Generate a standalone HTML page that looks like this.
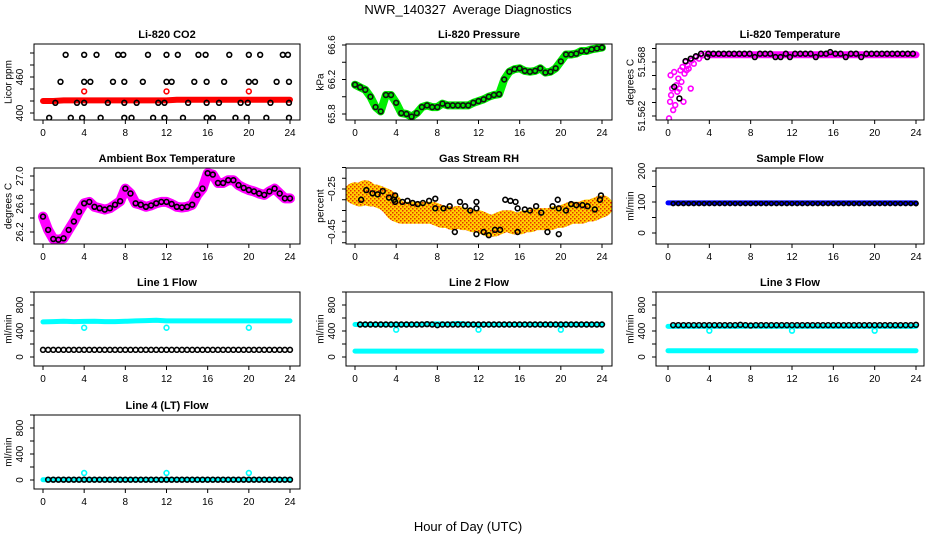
<!DOCTYPE html>
<html><head><meta charset="utf-8">
<style>
html,body{margin:0;padding:0;background:#fff;}
svg{display:block;font-family:"Liberation Sans",sans-serif;}
</style></head>
<body>
<svg id="chart" width="936" height="540" viewBox="0 0 936 540" xmlns="http://www.w3.org/2000/svg">
<defs>
<pattern id="speckle" width="4" height="4" patternUnits="userSpaceOnUse">
<rect width="4" height="4" fill="#ffd000"/>
<rect x="0" y="0" width="1.5" height="1.5" fill="#e83000"/>
<rect x="2" y="2" width="1.5" height="1.5" fill="#e83000"/>
</pattern>
</defs>
<text x="468" y="14" text-anchor="middle" font-size="13">NWR_140327&#160; Average Diagnostics</text>
<text x="468" y="531" text-anchor="middle" font-size="13">Hour of Day (UTC)</text>
</svg>
<script>
// ---------- data ----------
const xTicks = [0,4,8,12,16,20,24];
const halfHours = [0,0.5,1,1.5,2,2.5,3,3.5,4,4.5,5,5.5,6,6.5,7,7.5,8,8.5,9,9.5,10,10.5,11,11.5,12,12.5,13,13.5,14,14.5,15,15.5,16,16.5,17,17.5,18,18.5,19,19.5,20,20.5,21,21.5,22,22.5,23,23.5,24];
const hours = [0,1,2,3,4,5,6,7,8,9,10,11,12,13,14,15,16,17,18,19,20,21,22,23,24];

// CO2
const co2RedBand = [420,420,421,421,421,421,421,421,421,421,421,421,421,422,422,422,422,422,422,422,422,422,422,422,422];
const co2RedOutT = [4,12,20];
const co2RedOutV = [436,436,436];
const co2BlackT = [2.2,4,5.2,7.3,7.8,10.2,12,13.1,15.1,15.8,18.1,20,21.1,23.3,23.8, 1.7,4,4.6,6.8,7.9,9.7,12,12.5,14.7,15.9,17.6,20,20.6,22.7,23.9, 1.2,3.3,4,6.3,7.9,9.1,11.2,11.8,14.1,15.9,17.1,19.2,19.9,22.1,23.9, 0.6,2.7,3.8,5.6,7.9,8.6,10.7,11.8,13.6,15.9,16.5,18.7,19.8,21.7,23.9];
const co2BlackV = [497,497,497,497,497,497,497,497,497,497,497,497,497,497,497, 452,452,452,452,452,452,452,452,452,452,452,452,452,452,452, 417,417,417,417,417,417,417,417,417,417,417,417,417,417,417, 392,392,392,392,392,392,392,392,392,392,392,392,392,392,392];

// Pressure
const pressure = [66.14,66.11,66.08,66.0,65.88,65.83,66.02,66.02,65.93,65.81,65.80,65.77,65.81,65.88,65.90,65.88,65.88,65.92,65.90,65.90,65.90,65.90,65.90,65.93,65.95,65.97,66.0,66.02,66.03,66.2,66.29,66.32,66.33,66.30,66.29,66.30,66.33,66.28,66.29,66.33,66.41,66.49,66.49,66.50,66.53,66.53,66.55,66.56,66.57];

// Li-820 temperature
const tempMagT = [0.1,0.2,0.25,0.3,0.4,0.5,0.6,0.7,0.8,0.9,1.0,1.1,1.2,1.3,1.4,1.5,1.6,1.7,1.8,1.9,2.0,2.2,2.3,2.5,2.7,3.0,3.3,3.6,4.0];
const tempMagV = [51.56174,51.56358,51.56653,51.56432,51.56505,51.56266,51.56689,51.56321,51.56542,51.56469,51.56616,51.56505,51.56708,51.56579,51.56745,51.56358,51.56671,51.5680,51.56708,51.56763,51.56726,51.56505,51.56818,51.56781,51.56855,51.56837,51.56873,51.56892,51.56892];
const tempBand = [51.5688,51.5688,51.5688,51.5688,51.5688,51.5688,51.5688,51.5688,51.5688,51.5688,51.5688,51.5688,51.5688,51.5688,51.5688,51.5688,51.5688,51.5688,51.5688,51.5688,51.5688];
const tempBandT = [4,5,6,7,8,9,10,11,12,13,14,15,16,17,18,19,20,21,22,23,24];
const tempBlackT = [0.6,1.1,1.7,2.2,2.7,3.2,3.8,3.9,4.4,4.9,5.4,5.9,6.4,6.9,7.4,7.9,8.4,8.9,9.4,9.9,10.4,10.9,11.4,11.8,12.3,12.8,13.3,13.8,14.3,14.8,15.3,15.7,16.2,16.7,17.2,17.7,18.2,18.7,19.2,19.7,20.2,20.7,21.2,21.7,22.2,22.7,23.2,23.7];
const tempBlackV = [51.56524,51.56395,51.5681,51.56837,51.56864,51.56892,51.56855,51.56892,51.56892,51.56892,51.56892,51.56892,51.56892,51.56892,51.56892,51.56892,51.56855,51.56892,51.56892,51.56892,51.56855,51.56855,51.56892,51.56855,51.56892,51.56892,51.56892,51.56892,51.56855,51.56892,51.56892,51.5691,51.56892,51.56892,51.56855,51.56892,51.56892,51.56855,51.56892,51.56892,51.56892,51.56892,51.56892,51.56892,51.56892,51.56892,51.56892,51.56892];

// Ambient temperature
const ambient = [26.42,26.23,26.10,26.09,26.11,26.23,26.35,26.49,26.61,26.63,26.56,26.54,26.52,26.54,26.59,26.64,26.82,26.75,26.61,26.59,26.56,26.58,26.61,26.63,26.63,26.60,26.56,26.55,26.56,26.59,26.73,26.82,27.04,27.02,26.90,26.90,26.94,26.94,26.87,26.83,26.80,26.78,26.75,26.73,26.78,26.82,26.75,26.68,26.68];

// Gas stream RH
const rhBand = [-0.27,-0.28,-0.26,-0.28,-0.28,-0.29,-0.30,-0.32,-0.35,-0.36,-0.36,-0.36,-0.36,-0.36,-0.36,-0.36,-0.37,-0.38,-0.38,-0.39,-0.38,-0.39,-0.39,-0.40,-0.40,-0.41,-0.42,-0.42,-0.41,-0.40,-0.40,-0.41,-0.41,-0.40,-0.40,-0.39,-0.39,-0.39,-0.39,-0.38,-0.38,-0.37,-0.36,-0.36,-0.36,-0.35,-0.35,-0.34,-0.33];
const rhBlackT = [0.6,1.1,1.7,2.2,2.7,3.3,3.8,3.9,3.9,4.6,5.1,5.6,6.1,6.6,7.2,7.8,7.8,8.6,9.2,9.7,10.2,10.7,11.2,11.8,11.8,11.8,12.5,13.0,13.6,14.1,14.6,15.1,15.6,15.8,15.8,16.5,17.0,17.6,18.1,18.7,19.2,19.7,19.8,19.8,20.5,21.0,21.5,22.1,22.6,23.3,23.8,23.9];
const rhBlackV = [-0.30,-0.255,-0.27,-0.275,-0.26,-0.29,-0.30,-0.28,-0.31,-0.31,-0.305,-0.315,-0.32,-0.315,-0.305,-0.295,-0.34,-0.34,-0.33,-0.45,-0.31,-0.33,-0.35,-0.34,-0.31,-0.46,-0.45,-0.465,-0.44,-0.44,-0.30,-0.305,-0.31,-0.34,-0.45,-0.345,-0.35,-0.33,-0.36,-0.45,-0.33,-0.30,-0.46,-0.34,-0.35,-0.32,-0.325,-0.325,-0.33,-0.345,-0.30,-0.28];

// Sample flow
const sampleBlue = [97,97,97,97,97,97,97,97,97,97,97,97,97,97,97,97,97,97,97,97,97,97,97,97,97];
const sampleBlack = [95,95,95,95,95,95,95,95,95,95,95,95,95,95,95,95,95,95,95,95,95,95,95,95,95,95,95,95,95,95,95,95,95,95,95,95,95,95,95,95,95,95,95,95,95,95,95,95,95];

// Line flows
const line1Cyan = [540,545,550,545,548,550,545,545,550,555,560,565,555,555,555,555,555,555,555,555,555,555,555,555,555];
const line1Black = [110,110,110,110,110,110,110,110,110,110,110,110,110,110,110,110,110,110,110,110,110,110,110,110,110,110,110,110,110,110,110,110,110,110,110,110,110,110,110,110,110,110,110,110,110,110,110,110,110];
const line1DipV = [450,450,450];
const line2Cyan = [90,90,90,90,90,90,90,90,90,90,90,90,90,90,90,90,90,90,90,90,90,90,90,90,90];
const line2CyanHi = [500,500,500,500,500,500,500,505,510,505,515,505,500,500,500,500,500,500,500,500,500,500,500,500,500];
const line2Black = [500,500,500,500,500,500,500,500,500,500,500,500,500,500,505,500,490,500,500,500,500,500,500,500,500,500,500,500,500,500,500,500,500,500,500,500,500,500,500,500,500,500,500,500,500,500,500,500,500];
const line2DipV = [420,420,420];
const line3Cyan = [97,97,97,97,97,97,97,97,97,97,97,97,97,97,97,97,97,97,97,97,97,97,97,97,97];
const line3CyanHi = [470,470,470,470,470,470,470,470,475,470,470,470,470,470,470,470,470,470,470,470,470,470,470,470,470];
const line3Black = [490,490,490,490,490,490,490,490,490,490,490,490,490,490,495,490,485,490,490,490,490,490,490,490,490,490,490,490,490,490,490,490,490,490,490,490,490,490,490,490,490,490,490,490,490,490,490,490,495];
const line3DipV = [405,405,405];
const line4Cyan = [5,5,5,5,5,5,5,5,5,5,5,5,5,5,5,5,5,5,5,5,5,5,5,5,5];
const line4Black = [5,5,5,5,5,5,5,5,5,5,5,5,5,5,5,5,5,5,5,5,5,5,5,5,5,5,5,5,5,5,5,5,5,5,5,5,5,5,5,5,5,5,5,5,5,5,5,5,5];
const line4DipV = [108,108,108];
const dipT = [4,12,20];

// ---------- layout ----------
const NS = 'http://www.w3.org/2000/svg';
const svg = document.getElementById('chart');
const cols = [{l:34,r:300,x0:43,x24:290,lab:9},{l:346,r:612,x0:355,x24:602,lab:321},{l:656,r:924,x0:668,x24:916,lab:631}];
const rows = [{t:44,b:120},{t:168,b:244},{t:292,b:366},{t:415,b:489}];

function el(tag, attrs, parent){
  const e = document.createElementNS(NS, tag);
  for (const k in attrs) e.setAttribute(k, attrs[k]);
  (parent||svg).appendChild(e);
  return e;
}

function panel(name, title, ci, ri, yTitle, v0, p0, v1, p1, ticks, labels){
  const c = cols[ci], r = rows[ri];
  const g = el('g', {});
  
  
  const xs = h => c.x0 + (h/24)*(c.x24-c.x0);
  const ys = v => p0 + (v - v0)*(p1-p0)/(v1-v0);
  const clip = 'clip-' + name;
  const cp = el('clipPath', {id: clip}, g);
  el('rect', {x:c.l, y:r.t, width:c.r-c.l, height:r.b-r.t}, cp);
  const plot = el('g', {'clip-path':'url(#'+clip+')'}, g);
  
  
  const box = el('rect', {x:c.l, y:r.t, width:c.r-c.l, height:r.b-r.t, fill:'none', stroke:'#000', 'stroke-width':1}, g);
  
  
  const tt = el('text', {x:(c.l+c.r)/2, y:r.t-6, 'text-anchor':'middle', 'font-size':11, 'font-weight':'bold'}, g);
  tt.textContent = title;
  
  
  const cy = (r.t+r.b)/2;
  const yt = el('text', {x:c.lab, y:cy, 'text-anchor':'middle', 'font-size':10, transform:'rotate(-90 '+c.lab+' '+cy+')', 'dominant-baseline':'middle'}, g);
  yt.textContent = yTitle;
  
  
  xTicks.forEach(h => {
    const x = xs(h);
    const tk = el('line', {x1:x, x2:x, y1:r.b, y2:r.b+4, stroke:'#000'}, g);
    
    
    const tl = el('text', {x:x, y:r.b+16, 'text-anchor':'middle', 'font-size':10}, g);
    tl.textContent = h;
    
    
  });
  ticks.forEach((v, i) => {
    const y = ys(v);
    const tk = el('line', {x1:c.l-4, x2:c.l, y1:y, y2:y, stroke:'#000'}, g);
    
    
    if (labels[i]) {
      const lx = c.l - 11;
      const tl = el('text', {x:lx, y:y, 'text-anchor':'middle', 'font-size':10, transform:'rotate(-90 '+lx+' '+y+')'}, g);
      tl.textContent = labels[i];
      
      
    }
  });
  return {plot, xs, ys};
}

function band(p, name, ts, vs, color, w){
  const pts = ts.map((t,i) => p.xs(t).toFixed(1)+','+p.ys(vs[i]).toFixed(1)).join(' ');
  const pl = el('polyline', {points:pts, fill:'none', stroke:color, 'stroke-width':w, 'stroke-linejoin':'round', 'stroke-linecap':'round'}, p.plot);
  
  
}
function circles(p, name, ts, vs, color, rad){
  ts.forEach((t,i) => {
    const cc = el('circle', {cx:p.xs(t), cy:p.ys(vs[i]), r:rad||2.4, fill:'none', stroke:color, 'stroke-width':1.6}, p.plot);
    
    
  });
}

let p = panel('co2', 'Li-820 CO2', 0, 0, 'Licor ppm', 400, 113, 460, 77, [400,420,440,460,480,500], ['400','','','460','','']);
band(p, 'co2-red-band', hours, co2RedBand, '#ff0000', 6);
circles(p, 'co2-red-outlier', co2RedOutT, co2RedOutV, '#ff0000');
circles(p, 'co2-black-point', co2BlackT, co2BlackV, '#000');

p = panel('pressure', 'Li-820 Pressure', 1, 0, 'kPa', 65.8, 114, 66.6, 45, [65.8,66.0,66.2,66.4,66.6], ['65.8','','66.2','','66.6']);
band(p, 'pressure-green-band', halfHours, pressure, '#00ee00', 8);
circles(p, 'pressure-black-point', halfHours, pressure, '#111');

p = panel('li820-temp', 'Li-820 Temperature', 2, 0, 'degrees C', 51.562, 116, 51.568, 62, [51.562,51.5635,51.565,51.5665,51.568,51.5695], ['51.562','','','','51.568','']);
band(p, 'li820-temp-magenta-band', tempBandT, tempBand, '#ff00ff', 7);
circles(p, 'li820-temp-magenta-point', tempMagT, tempMagV, '#ff00ff');
circles(p, 'li820-temp-black-point', tempBlackT, tempBlackV, '#000');

p = panel('ambient-temp', 'Ambient Box Temperature', 0, 1, 'degrees C', 26.2, 232, 27.0, 176, [26.2,26.4,26.6,26.8,27.0], ['26.2','','26.6','','27.0']);
band(p, 'ambient-magenta-band', halfHours, ambient, '#ff00ff', 10);
circles(p, 'ambient-black-point', halfHours, ambient, '#000');

p = panel('gas-rh', 'Gas Stream RH', 1, 1, 'percent', -0.25, 189, -0.45, 232, [-0.5,-0.45,-0.4,-0.35,-0.3,-0.25,-0.2,-0.15], ['','\u22120.45','','','','\u22120.25','','']);
band(p, 'rh-orange-band', halfHours, rhBand, 'url(#speckle)', 22);
circles(p, 'rh-black-point', rhBlackT, rhBlackV, '#000');

p = panel('sample-flow', 'Sample Flow', 2, 1, 'ml/min', 0, 233, 200, 171, [0,50,100,150,200], ['0','','100','','200']);
band(p, 'sample-blue-band', hours, sampleBlue, '#0000ff', 5);
circles(p, 'sample-black-point', halfHours.slice(1).concat([24]), sampleBlack.slice(1).concat([95]), '#000', 2);

const flowTicks = [0,200,400,600,800,1000], flowLabels = ['0','','400','','800',''];
p = panel('line1-flow', 'Line 1 Flow', 0, 2, 'ml/min', 0, 357, 400, 331, flowTicks, flowLabels);
band(p, 'line1-cyan-band', hours, line1Cyan, '#00ffff', 5);
circles(p, 'line1-cyan-dip', dipT, line1DipV, '#00ffff');
circles(p, 'line1-black-point', halfHours, line1Black, '#000');

p = panel('line2-flow', 'Line 2 Flow', 1, 2, 'ml/min', 0, 357, 400, 331, flowTicks, flowLabels);
band(p, 'line2-cyan-low-band', hours, line2Cyan, '#00ffff', 5);
band(p, 'line2-cyan-high-band', hours, line2CyanHi, '#00ffff', 5);
circles(p, 'line2-cyan-dip', dipT, line2DipV, '#00ffff');
circles(p, 'line2-black-point', halfHours.slice(1), line2Black.slice(1), '#000');

p = panel('line3-flow', 'Line 3 Flow', 2, 2, 'ml/min', 0, 357, 400, 331, flowTicks, flowLabels);
band(p, 'line3-cyan-low-band', hours, line3Cyan, '#00ffff', 5);
band(p, 'line3-cyan-high-band', hours, line3CyanHi, '#00ffff', 5);
circles(p, 'line3-cyan-dip', dipT, line3DipV, '#00ffff');
circles(p, 'line3-black-point', halfHours.slice(1), line3Black.slice(1), '#000');

p = panel('line4-flow', 'Line 4 (LT) Flow', 0, 3, 'ml/min', 0, 480, 400, 454, flowTicks, flowLabels);
band(p, 'line4-cyan-band', hours, line4Cyan, '#00ffff', 5);
circles(p, 'line4-cyan-dip', dipT, line4DipV, '#00ffff');
circles(p, 'line4-black-point', halfHours.slice(1), line4Black.slice(1), '#000');
</script>
</body></html>
